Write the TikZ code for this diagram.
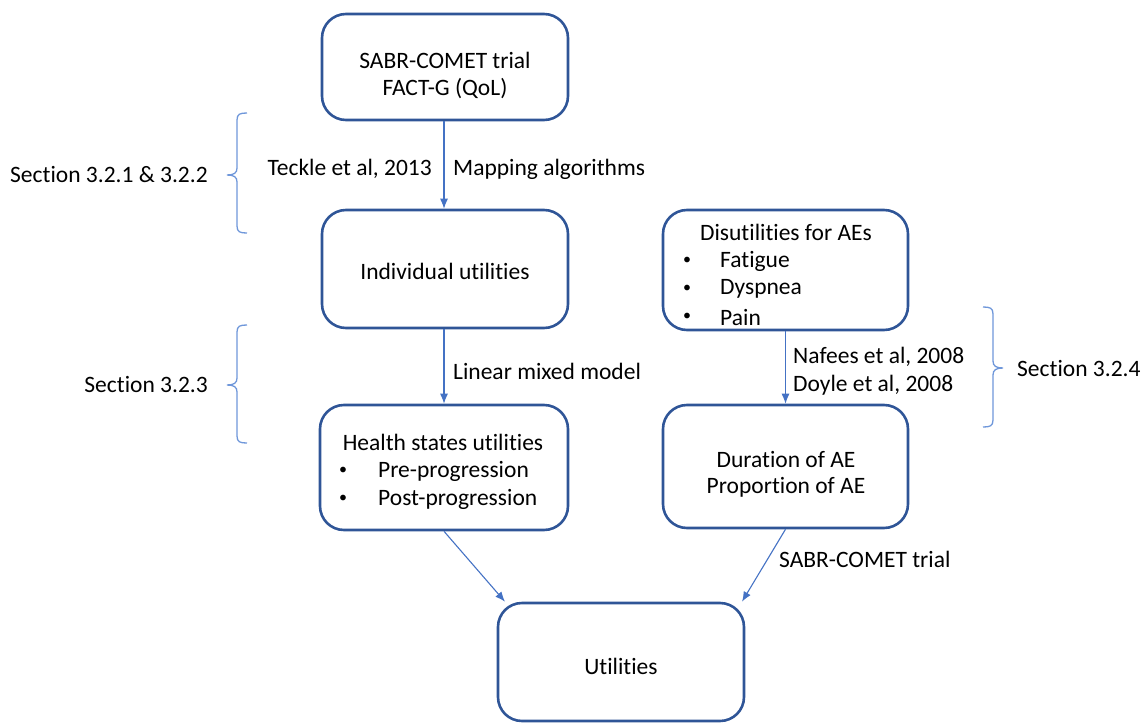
\documentclass[tikz,border=0pt]{standalone}
\usepackage{fontspec}
\setmainfont[Ligatures=NoCommon]{Carlito}
\usetikzlibrary{arrows.meta}
\definecolor{boxblue}{HTML}{2F5597}
\definecolor{arrblue}{HTML}{4472C4}
\definecolor{brblue}{HTML}{6F97DA}
\begin{document}
\begin{tikzpicture}[x=1pt,y=-1pt,
  every node/.style={font=\fontsize{23.5}{29}\selectfont, inner sep=0pt},
  box/.style={draw=boxblue, line width=2.6pt, rounded corners=24pt, minimum width=246pt, align=center},
  arr/.style={draw=arrblue, line width=1.1pt, -{Latex[length=10pt,width=8pt]}},
  brace/.style={draw=brblue, line width=1.3pt},
  bul/.style={font=\fontsize{16}{20}\selectfont},
  lbl/.style={text=black}]
\useasboundingbox (0,0) rectangle (1144,723);
% boxes
\node[box, minimum height=106pt] (top) at (445,67) {};
\node[box, minimum height=118pt] (ind) at (445,269) {};
\node[box, minimum height=125pt, minimum width=248pt] (hs) at (444,467.5) {};
\node[box, minimum height=120pt, minimum width=245pt] (dis) at (785.5,270) {};
\node[box, minimum height=123pt, minimum width=245pt] (dur) at (785.5,466.5) {};
\node[box, minimum height=118pt] (util) at (621,662) {};
% box contents
\node (topt1) at (445,60) {SABR-COMET trial};
\node (topt2) at (445,89) {FACT-G (QoL)};
\node (indt) at (445,271) {Individual utilities};
\node (hst) at (443,442) {Health states utilities};
\node[bul] (hsb1) at (343,471) {•};
\node[anchor=west] (hsi1) at (378,471) {Pre-progression};
\node[bul] (hsb2) at (343,499) {•};
\node[anchor=west] (hsi2) at (378,499) {Post-progression};
\node (dist) at (786,232) {Disutilities for AEs};
\node[bul] (disb1) at (687,261) {•};
\node[anchor=west] (disi1) at (720,261) {Fatigue};
\node[bul] (disb2) at (687,289) {•};
\node[anchor=west] (disi2) at (720,289) {Dyspnea};
\node[bul] (disb3) at (687,317) {•};
\node[anchor=west] (disi3) at (720,317) {Pain};
\node (durt1) at (786,459) {Duration of AE};
\node (durt2) at (786,487) {Proportion of AE};
\node (utilt) at (621,666) {Utilities};
% arrows
\draw[arr] ([xshift=-1pt]top.south) -- ([xshift=-1pt]ind.north);
\draw[arr] ([xshift=-1pt]ind.south) -- ([xshift=0pt]hs.north);
\draw[arr] (dis.south) -- (dur.north);
\draw[arr] (hs.south) -- ([xshift=-116pt]util.north);
\draw[arr] (dur.south) -- ([xshift=121pt]util.north);
% connector labels
\node[anchor=east] (teckle) at (432,169) {Teckle et al, 2013};
\node[anchor=west] (mapping) at (453,169) {Mapping algorithms};
\node[anchor=west] (lmm) at (453,371) {Linear mixed model};
\node[anchor=west] (nafees) at (793,357) {Nafees et al, 2008};
\node[anchor=west] (doyle) at (793,385) {Doyle et al, 2008};
\node[anchor=west] (sabr) at (779,559) {SABR-COMET trial};
% braces
\draw[brace] (247,113) .. controls (240,113) and (237,114) .. (237,120) -- (237,168) .. controls (237,173) and (234,175) .. (227,175) .. controls (234,175) and (237,177) .. (237,182) -- (237,226) .. controls (237,232) and (240,233) .. (247,233);
\draw[brace] (247,325) .. controls (240,325) and (237,326) .. (237,332) -- (237,378) .. controls (237,383) and (234,385) .. (227,385) .. controls (234,385) and (237,387) .. (237,392) -- (237,436) .. controls (237,442) and (240,443) .. (247,443);
\draw[brace] (983,307) .. controls (990,307) and (993,308) .. (993,314) -- (993,361) .. controls (993,366) and (996,368) .. (1003,368) .. controls (996,368) and (993,370) .. (993,375) -- (993,420) .. controls (993,426) and (990,427) .. (983,427);
\node[anchor=east] (sec1) at (208,175) {Section 3.2.1 \& 3.2.2};
\node[anchor=east] (sec2) at (208,385) {Section 3.2.3};
\node[anchor=west] (sec3) at (1017,369) {Section 3.2.4};
\end{tikzpicture}
\end{document}
